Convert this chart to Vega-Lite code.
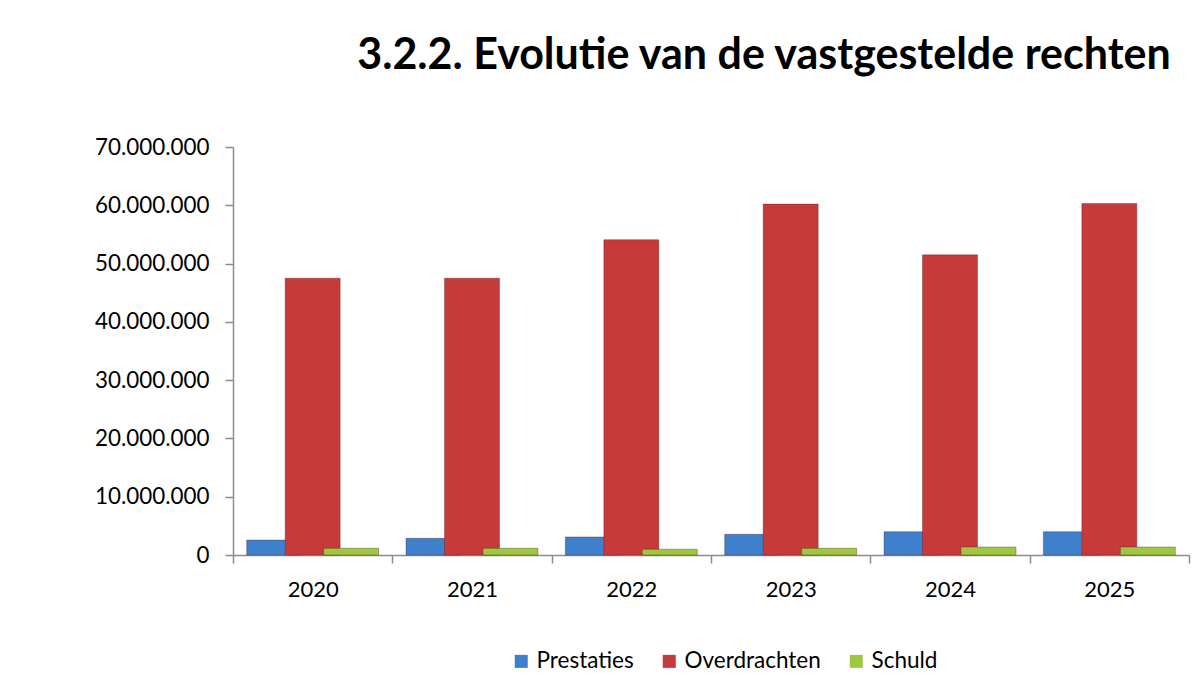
{
  "$schema": "https://vega.github.io/schema/vega-lite/v6.json",
  "width": 956,
  "height": 408,
  "autosize": "none",
  "padding": {"left": 233, "top": 147, "right": 15, "bottom": 138},
  "background": "white",
  "title": {
    "text": "3.2.2. Evolutie van de vastgestelde rechten",
    "anchor": "end",
    "dx": -19,
    "offset": 58,
    "font": "Lato",
    "fontSize": 43,
    "fontWeight": "bold",
    "color": "#000000"
  },
  "data": {
    "values": [
      {"jaar": "2020", "reeks": "Prestaties", "bedrag": 2570000},
      {"jaar": "2020", "reeks": "Overdrachten", "bedrag": 47500000},
      {"jaar": "2020", "reeks": "Schuld", "bedrag": 1150000},
      {"jaar": "2021", "reeks": "Prestaties", "bedrag": 2860000},
      {"jaar": "2021", "reeks": "Overdrachten", "bedrag": 47500000},
      {"jaar": "2021", "reeks": "Schuld", "bedrag": 1150000},
      {"jaar": "2022", "reeks": "Prestaties", "bedrag": 3100000},
      {"jaar": "2022", "reeks": "Overdrachten", "bedrag": 54100000},
      {"jaar": "2022", "reeks": "Schuld", "bedrag": 1000000},
      {"jaar": "2023", "reeks": "Prestaties", "bedrag": 3550000},
      {"jaar": "2023", "reeks": "Overdrachten", "bedrag": 60200000},
      {"jaar": "2023", "reeks": "Schuld", "bedrag": 1150000},
      {"jaar": "2024", "reeks": "Prestaties", "bedrag": 4000000},
      {"jaar": "2024", "reeks": "Overdrachten", "bedrag": 51500000},
      {"jaar": "2024", "reeks": "Schuld", "bedrag": 1370000},
      {"jaar": "2025", "reeks": "Prestaties", "bedrag": 4000000},
      {"jaar": "2025", "reeks": "Overdrachten", "bedrag": 60300000},
      {"jaar": "2025", "reeks": "Schuld", "bedrag": 1370000}
    ]
  },
  "mark": {"type": "bar", "width": 55, "stroke": "#5a1a1a", "strokeOpacity": 0.35, "strokeWidth": 1},
  "encoding": {
    "x": {
      "field": "jaar",
      "type": "nominal",
      "scale": {"paddingInner": 0, "paddingOuter": 0},
      "axis": {
        "title": null,
        "labelAngle": 0,
        "tickBand": "extent",
        "domainColor": "#8c8c8c",
        "domainWidth": 1.5,
        "tickColor": "#8c8c8c",
        "tickWidth": 1.5,
        "tickSize": 8,
        "labelFont": "Lato",
        "labelFontSize": 22,
        "labelColor": "#000000",
        "labelPadding": 16
      }
    },
    "xOffset": {
      "field": "reeks",
      "type": "nominal",
      "sort": ["Prestaties", "Overdrachten", "Schuld"],
      "scale": {"paddingInner": 0, "paddingOuter": 0.57}
    },
    "y": {
      "field": "bedrag",
      "type": "quantitative",
      "scale": {"domain": [0, 70000000], "nice": false},
      "axis": {
        "title": null,
        "values": [0, 10000000, 20000000, 30000000, 40000000, 50000000, 60000000, 70000000],
        "format": ",d",
        "labelExpr": "replace(datum.label, /,/g, '.')",
        "grid": false,
        "domainColor": "#8c8c8c",
        "domainWidth": 1.5,
        "tickColor": "#8c8c8c",
        "tickWidth": 1.5,
        "tickSize": 8,
        "labelFont": "Lato",
        "labelFontSize": 22.4,
        "labelColor": "#000000",
        "labelPadding": 16
      }
    },
    "color": {
      "field": "reeks",
      "type": "nominal",
      "sort": ["Prestaties", "Overdrachten", "Schuld"],
      "scale": {"domain": ["Prestaties", "Overdrachten", "Schuld"], "range": ["#3f80cc", "#c63a3a", "#9dc83f"]},
      "legend": {
        "title": null,
        "orient": "none",
        "legendX": 277,
        "legendY": 503,
        "direction": "horizontal",
        "symbolType": "square",
        "symbolSize": 169,
        "symbolStrokeWidth": 0,
        "labelFont": "Lato",
        "labelFontSize": 22.5,
        "labelColor": "#000000",
        "labelOffset": 4,
        "columnPadding": 24
      }
    }
  },
  "config": {"view": {"stroke": null}}
}
